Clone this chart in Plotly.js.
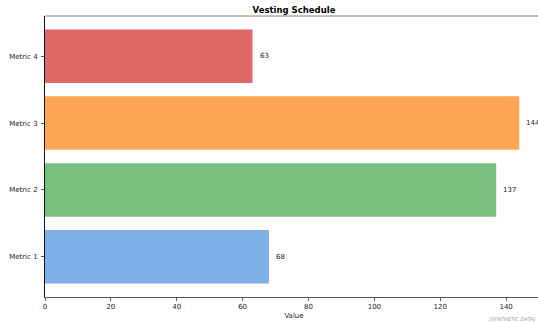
<!DOCTYPE html>
<html>
<head>
<meta charset="utf-8">
<script src="https://cdn.plot.ly/plotly-3.0.1.min.js"></script>
<style>
  html, body { margin: 0; padding: 0; overflow: hidden; background: #fff; }
  #chart { width: 551px; height: 323px; }
</style>
</head>
<body>
<div id="chart"></div>
<script>
// Vesting schedule per metric
const categories = ["Metric 1", "Metric 2", "Metric 3", "Metric 4"];
const values = [68, 137, 144, 63];
const barColors = ["#7FB0E8", "#7BBF7D", "#FFA654", "#E06767"];
const xTicks = [0, 20, 40, 60, 80, 100, 120, 140];

const font = "DejaVu Sans, sans-serif";
const ink = "#1a1a1a";

const trace = {
  type: "bar",
  orientation: "h",
  y: categories,
  x: values,
  width: 0.8,
  marker: { color: barColors, line: { width: 0 } },
  hoverinfo: "skip"
};

// value labels just past the end of each bar
const labels = categories.map((c, i) => ({
  x: values[i], y: c, xref: "x", yref: "y",
  text: String(values[i]), showarrow: false,
  xanchor: "left", yanchor: "middle", xshift: 5,
  font: { family: font, size: 7, color: ink }
}));

labels.push({
  xref: "paper", yref: "paper", x: 0.988, y: 0,
  xanchor: "right", yanchor: "top", yshift: -17,
  text: "[SYNTHETIC DATA]", showarrow: false,
  font: { family: font, size: 5, color: "#9a9a9a", style: "italic" }
});

const layout = {
  width: 551, height: 323,
  margin: { l: 45, r: 8, t: 16, b: 26, pad: 0 },
  paper_bgcolor: "#fff", plot_bgcolor: "#fff",
  showlegend: false,
  title: {
    text: "<b>Vesting Schedule</b>",
    font: { family: font, size: 8.5, color: "#000" },
    x: 0.5, xref: "paper", y: 1, yref: "paper", yanchor: "bottom", pad: { b: 3 }
  },
  xaxis: {
    range: [0, 151.2],
    tickvals: xTicks,
    ticktext: xTicks.map(String),
    ticks: "outside", ticklen: 3, tickwidth: 0.8, tickcolor: "#333",
    showgrid: false, zeroline: false,
    showline: true, linecolor: "#555", linewidth: 1,
    mirror: false,
    tickfont: { family: font, size: 7, color: ink },
    title: { text: "Value", font: { family: font, size: 7, color: ink }, standoff: 2 }
  },
  yaxis: {
    range: [-0.6, 3.6],
    type: "category",
    categoryorder: "array", categoryarray: categories,
    ticks: "outside", ticklen: 3, tickwidth: 0.8, tickcolor: "#333",
    showgrid: false, zeroline: false,
    showline: true, linecolor: "#111", linewidth: 1,
    tickfont: { family: font, size: 7, color: ink },
    ticklabelstandoff: 2
  },
  shapes: [{
    type: "line", xref: "paper", yref: "paper",
    x0: 0, x1: 1, y0: 1, y1: 1,
    line: { color: "#888", width: 1.2 }
  }],
  annotations: labels
};

Plotly.newPlot("chart", [trace], layout, { staticPlot: true, displayModeBar: false });
</script>
</body>
</html>
